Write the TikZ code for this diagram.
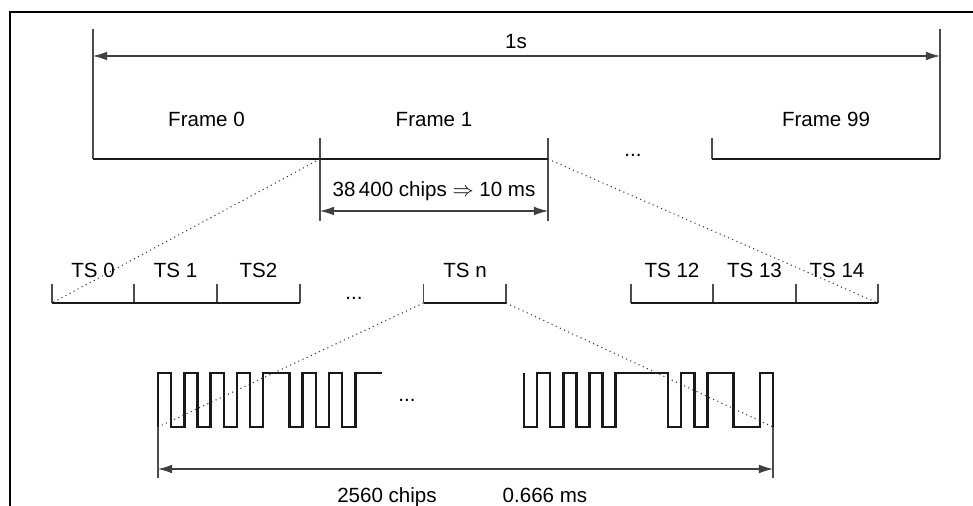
\documentclass[tikz,border=0pt]{standalone}
\usepackage{fontspec}
\setmainfont{Liberation Sans}
\usetikzlibrary{arrows.meta}
\tikzset{
  dimline/.style={draw=black!75, line width=0.7pt, {Latex[length=8pt,width=5pt]}-{Latex[length=8pt,width=5pt]}},
  guide/.style={draw=black!70, line width=0.6pt},
  bracketline/.style={draw=black!90, line width=0.9pt},
  zoomline/.style={draw=black!80, line width=0.6pt, dotted},
  chipwave/.style={draw=black!90, line width=1.4pt, line join=miter},
  lbl/.style={font=\fontsize{11.7}{14}\selectfont, inner sep=0pt, anchor=base},
}

\begin{document}
\begin{tikzpicture}[x=0.02cm, y=-0.02cm]
\useasboundingbox (0,0) rectangle (973,506);
% outer frame, cut off at right and bottom
\draw[line width=1.4pt] (10,506) -- (10,12) -- (973,12);

% one second
\coordinate (s0) at (93,56);  \coordinate (s1) at (940,56);
\coordinate (s0t) at (93,29); \coordinate (s1t) at (940,29);
\draw[dimline] (s0) -- (s1);
\node[lbl] (onesec) at (516,49) {1s};

% frames
\coordinate (f0) at (93,159);  \coordinate (f1) at (320,159); \coordinate (f2) at (548,159);
\coordinate (f3) at (712,159); \coordinate (f4) at (940,159);
\coordinate (f1t) at (320,138); \coordinate (f1b) at (320,221);
\coordinate (f2t) at (548,138); \coordinate (f2b) at (548,221);
\coordinate (f3t) at (712,138);
\draw[guide] (s0t) -- (f0);
\draw[guide] (s1t) -- (f4);
\draw[guide] (f1t) -- (f1b);
\draw[guide] (f2t) -- (f2b);
\draw[guide] (f3t) -- (f3);
\draw[bracketline] (f0) -- (f2);
\draw[bracketline] (f3) -- (f4);
\node[lbl] (fr0) at (206.5,127) {Frame 0};
\node[lbl] (fr1) at (434,127) {Frame 1};
\node[lbl] (fr99) at (826,127) {Frame 99};
\node[lbl] (frdots) at (633,157) {...};
% frame length
\coordinate (d0) at (320,211); \coordinate (d1) at (548,211);
\draw[dimline] (d0) -- (d1);
\node[lbl] (frlen) at (434,197) {38\,400 chips $\Rightarrow$ 10 ms};

% time slots
\coordinate (t0) at (52,303);  \coordinate (t1) at (134,303);
\coordinate (t2) at (217,303); \coordinate (t3) at (300,303);
\coordinate (tn0) at (423.5,303); \coordinate (tn1) at (506,303);
\coordinate (t12) at (631,303); \coordinate (t13) at (713,303);
\coordinate (t14) at (796,303); \coordinate (t15) at (878,303);
\foreach \c in {t0,t1,t2,t3,tn0,tn1,t12,t13,t14,t15}
  \draw[guide] (\c) -- ++(0,-19);
\draw[bracketline] (t0) -- (t3);
\draw[bracketline] (tn0) -- (tn1);
\draw[bracketline] (t12) -- (t15);
\node[lbl] (ts0) at (93,277.5) {TS 0};
\node[lbl] (ts1) at (175.5,277.5) {TS 1};
\node[lbl] (ts2) at (258.5,277.5) {TS2};
\node[lbl] (tsn) at (465,277.5) {TS n};
\node[lbl] (ts12) at (672,277.5) {TS 12};
\node[lbl] (ts13) at (754.5,277.5) {TS 13};
\node[lbl] (ts14) at (837,277.5) {TS 14};
\node[lbl] (tsdots) at (354,300) {...};
% zoom from frame 1 to its slots
\draw[zoomline] (f1) -- (t0);
\draw[zoomline] (f2) -- (t15);

% chips of one slot
\coordinate (c0) at (158,427); \coordinate (c1) at (773,427);
\draw[chipwave] (c0) |- (171.2,373) |- (184.3,427) |- (197.5,373) |- (210.6,427)
  |- (223.8,373) |- (236.9,427) |- (250.1,373) |- (263.2,427) |- (289.5,373)
  |- (302.7,427) |- (315.8,373) |- (329,427) |- (342.1,373) |- (355.3,427)
  |- (381.6,373);
\draw[chipwave] (524,373) |- (537.1,427) |- (550.2,373) |- (563.3,427)
  |- (576.4,373) |- (589.5,427) |- (602.6,373) |- (615.7,427) |- (668.1,373)
  |- (681.2,427) |- (694.3,373) |- (707.4,427) |- (733.6,373) |- (759.8,427)
  |- (773,373) -- (c1);
\node[lbl] (chipdots) at (407,401) {...};
% zoom from TS n to the chips
\draw[zoomline] (tn0) -- (c0);
\draw[zoomline] (tn1) -- (c1);
% slot length
\coordinate (c0b) at (158,478); \coordinate (c1b) at (773,478);
\coordinate (e0) at (158,469); \coordinate (e1) at (773,469);
\draw[guide] (c0) -- (c0b);
\draw[guide] (c1) -- (c1b);
\draw[dimline] (e0) -- (e1);
\node[lbl] (slchips) at (387,502) {2560 chips};
\node[lbl] (slms) at (545,502) {0.666 ms};
\end{tikzpicture}
\end{document}
